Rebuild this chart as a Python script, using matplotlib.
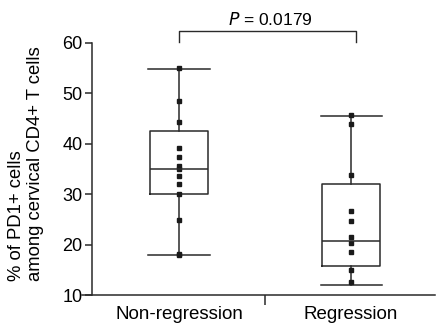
import matplotlib
matplotlib.use("Agg")
import matplotlib.pyplot as plt

plt.rcParams['font.family'] = ['Liberation Sans', 'DejaVu Sans']

# groups and values
groups = ["Non-regression", "Regression"]
nonreg_points = [55.0, 48.5, 44.2, 39.2, 37.4, 35.6, 35.0, 33.6, 32.0, 30.0, 24.9, 18.1, 18.0]
reg_points = [45.7, 43.8, 33.8, 26.7, 24.7, 21.5, 20.3, 18.5, 14.9, 12.5]

# box stats (min/max whiskers)
whis_low = [18.0, 12.0]
q1 = [30.0, 15.8]
medians = [35.0, 20.7]
q3 = [42.5, 32.0]
whis_high = [54.8, 45.5]

p_text = "$P$ = 0.0179"
yticks = [10, 20, 30, 40, 50, 60]

LINE = "#2a2a2a"

fig = plt.figure(figsize=(4.37, 3.28), dpi=100)
ax = fig.add_axes([82 / 437, 1 - 295 / 328, 353 / 437, (295 - 42.7) / 328])

stats = []
for i, name in enumerate(groups):
    stats.append({
        "label": name,
        "whislo": whis_low[i], "q1": q1[i], "med": medians[i],
        "q3": q3[i], "whishi": whis_high[i], "fliers": [],
    })

ax.bxp(stats, positions=[0, 1], widths=0.34, capwidths=0.355,
       showfliers=False, patch_artist=False,
       boxprops=dict(color=LINE, linewidth=1.1),
       medianprops=dict(color=LINE, linewidth=1.1),
       whiskerprops=dict(color=LINE, linewidth=1.1),
       capprops=dict(color=LINE, linewidth=1.1))

for i, pts in enumerate([nonreg_points, reg_points]):
    ax.plot([i] * len(pts), pts, linestyle="none", marker="s",
            markersize=3.2, color="#1a1a1a", clip_on=False)

ax.set_xlim(-0.564, 1.488)
ax.set_ylim(10, 60)
ax.set_yticks(yticks)
ax.set_xticks([0, 1])
ax.set_xticklabels(groups)
ax.set_xticks([0.5], minor=True)
ax.tick_params(axis="x", which="major", length=0, pad=8, labelsize=13.5)
ax.tick_params(axis="x", which="minor", length=7, width=1.1, color=LINE, direction="out")
ax.tick_params(axis="y", length=5, width=1.1, color=LINE, pad=2, labelsize=13)

for s in ["top", "right"]:
    ax.spines[s].set_visible(False)
ax.spines["left"].set_position(("data", -0.506))
ax.spines["left"].set_color(LINE)
ax.spines["bottom"].set_color(LINE)
ax.spines["left"].set_linewidth(1.1)
ax.spines["bottom"].set_linewidth(1.1)

# significance bracket
ax.plot([0, 0, 1.03, 1.03], [60.2, 62.4, 62.4, 60.2], color=LINE,
        linewidth=1.0, clip_on=False)
ax.text(0.53, 63.0, p_text, ha="center", va="bottom", fontsize=12.5)

fig.text(26 / 437, 1 - 164 / 328, "% of PD1+ cells\namong cervical CD4+ T cells",
         rotation=90, ha="center", va="center", fontsize=13.3,
         multialignment="left", linespacing=1.1)

fig.savefig("out.png", dpi=100, facecolor="white")
